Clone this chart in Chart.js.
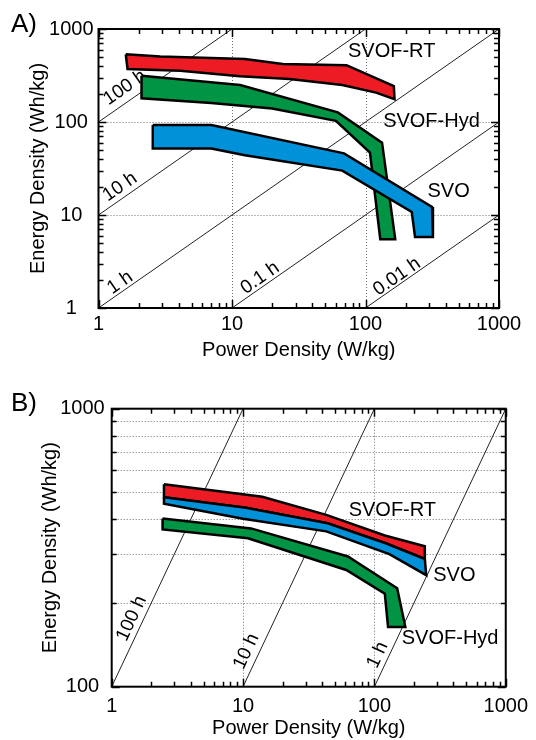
<!DOCTYPE html>
<html>
<head>
<meta charset="utf-8">
<script src="https://cdn.jsdelivr.net/npm/chart.js@4"></script>
<style>
  body { margin: 0; background: #fff; }
  canvas { position: absolute; left: 0; }
</style>
</head>
<body>
<canvas id="ragoneA" width="536" height="370" style="top:0"></canvas>
<canvas id="ragoneB" width="536" height="370" style="top:370px"></canvas>
<script>
// Band outlines, traced around each band (power W/kg, energy Wh/kg)
// Panel A
const rtPowerA   = [1.6, 2.9, 12.5, 24, 72, 163, 165, 120, 67, 27, 11.5, 4.1, 1.65];
const rtEnergyA  = [535, 505, 475, 420, 408, 243, 176, 207, 250, 290, 310, 355, 372];
const hydPowerA  = [2.1, 11.5, 62, 133, 167, 129, 108, 60, 20, 7, 2.1];
const hydEnergyA = [315, 250, 127, 60, 5.5, 5.5, 47, 103, 140, 160, 180];
const svoPowerA  = [2.55, 7, 69, 315, 320, 235, 222, 67, 12.5, 7, 2.55];
const svoEnergyA = [93, 93, 46, 12.2, 5.8, 5.8, 10.8, 30, 44, 52, 52];

// Panel B
const rtPowerB   = [2.5, 14, 43, 120, 242, 242, 122, 44, 10.5, 2.5];
const rtEnergyB  = [535, 482, 415, 350, 320, 288, 328, 387, 440, 480];
const svoPowerB  = [2.5, 10.5, 44, 122, 242, 248, 130, 43, 10, 2.5];
const svoEnergyB = [480, 440, 387, 328, 288, 252, 300, 362, 402, 455];
const hydPowerB  = [2.44, 11.5, 62.8, 149, 172, 127, 120, 61, 10.9, 2.44];
const hydEnergyB = [403, 371, 294, 226, 164, 164, 216, 263, 342, 368];

// constant discharge-time lines (hours)
const hoursA = [100, 10, 1, 0.1, 0.01];
const hoursB = [100, 10, 1];

// axis ticks
const powerDecades = [1, 10, 100, 1000];
const energyDecadesA = [1, 10, 100, 1000];
const energyDecadesB = [100, 1000];
const minorSteps = [2, 3, 4, 5, 6, 7, 8, 9];

const fontFamily = "'Liberation Sans', Arial, Helvetica, sans-serif";
const RED = '#ed1c24', GREEN = '#009444', BLUE = '#0091d8';

const minorTicks = decades => {
  const out = [];
  decades.slice(0, -1).forEach(d => minorSteps.forEach(m => out.push(d * m)));
  return out;
};

const band = (power, energy, color, order) => {
  const pts = power.map((p, i) => ({ x: p, y: energy[i] }));
  pts.push(pts[0]);
  return {
    data: pts,
    showLine: true,
    fill: 'shape',
    backgroundColor: color,
    borderColor: '#000',
    borderWidth: 2.5,
    borderJoinStyle: 'miter',
    pointRadius: 0,
    order
  };
};

// E = t * P, clipped to the axis box
const hourLine = (t, xMin, xMax, yMin, yMax) => {
  const p0 = Math.max(xMin, yMin / t);
  const p1 = Math.min(xMax, yMax / t);
  return {
    data: [{ x: p0, y: p0 * t }, { x: p1, y: p1 * t }],
    showLine: true,
    borderColor: '#222',
    borderWidth: 1,
    pointRadius: 0,
    order: 10
  };
};

const ragoneDecor = {
  id: 'ragoneDecor',
  beforeDatasetsDraw(chart, args, opts) {
    const { ctx, chartArea: area, scales: { x, y } } = chart;
    ctx.save();
    // dotted grid
    ctx.strokeStyle = '#6e6e6e';
    ctx.lineWidth = 1;
    ctx.setLineDash([1, 2]);
    ctx.beginPath();
    opts.xGrid.forEach(v => {
      const px = Math.round(x.getPixelForValue(v)) + 0.5;
      ctx.moveTo(px, area.top);
      ctx.lineTo(px, area.bottom);
    });
    opts.yGrid.forEach(v => {
      const py = Math.round(y.getPixelForValue(v)) + 0.5;
      ctx.moveTo(area.left, py);
      ctx.lineTo(area.right, py);
    });
    ctx.stroke();
    ctx.setLineDash([]);

    // hour labels, rotated along the time lines
    const yLo = y.min, yHi = y.max;
    const ang = Math.atan2(y.getPixelForValue(yHi) - y.getPixelForValue(yLo),
                           x.getPixelForValue(yHi / yLo) - x.getPixelForValue(1));
    ctx.font = `19px ${fontFamily}`;
    ctx.fillStyle = '#000';
    ctx.textAlign = 'center';
    ctx.textBaseline = 'middle';
    opts.hourLabels.forEach((t, i) => {
      ctx.save();
      ctx.translate(x.getPixelForValue(opts.hourLabelPower[i]), y.getPixelForValue(opts.hourLabelEnergy[i]));
      ctx.rotate(ang);
      ctx.fillText(`${t} h`, 0, 0);
      ctx.restore();
    });
    ctx.restore();
  },
  afterDatasetsDraw(chart, args, opts) {
    const { ctx, chartArea: area, scales: { x, y } } = chart;
    ctx.save();
    ctx.fillStyle = '#000';
    ctx.font = `20px ${fontFamily}`;
    ctx.textAlign = 'center';
    ctx.textBaseline = 'middle';
    opts.seriesLabels.forEach((s, i) => {
      ctx.fillText(s, x.getPixelForValue(opts.seriesPower[i]), y.getPixelForValue(opts.seriesEnergy[i]));
    });

    // inward ticks on all four sides
    ctx.strokeStyle = '#000';
    ctx.lineWidth = 1.5;
    ctx.beginPath();
    const tick = (v, major, horizontal) => {
      const len = major ? 8 : 5;
      if (horizontal) {
        const px = Math.round(x.getPixelForValue(v)) + 0.5;
        ctx.moveTo(px, area.bottom); ctx.lineTo(px, area.bottom - len);
        ctx.moveTo(px, area.top); ctx.lineTo(px, area.top + len);
      } else {
        const py = Math.round(y.getPixelForValue(v)) + 0.5;
        ctx.moveTo(area.left, py); ctx.lineTo(area.left + len, py);
        ctx.moveTo(area.right, py); ctx.lineTo(area.right - len, py);
      }
    };
    opts.xMajor.forEach(v => tick(v, true, true));
    minorTicks(opts.xMajor).forEach(v => tick(v, false, true));
    opts.yMajor.forEach(v => tick(v, true, false));
    minorTicks(opts.yMajor).forEach(v => tick(v, false, false));
    ctx.stroke();

    ctx.lineWidth = 2;
    ctx.strokeRect(area.left, area.top, area.right - area.left, area.bottom - area.top);

    ctx.font = `26px ${fontFamily}`;
    ctx.textAlign = 'left';
    ctx.textBaseline = 'alphabetic';
    ctx.fillText(opts.panel, 11, opts.panelBaseline);
    ctx.restore();
  }
};

function ragoneChart(id, datasets, axes, decor) {
  const tickFont = { family: fontFamily, size: 20 };
  const titleFont = { family: fontFamily, size: 20 };
  return new Chart(document.getElementById(id), {
    type: 'scatter',
    data: { datasets },
    options: {
      responsive: false,
      animation: false,
      events: [],
      layout: { padding: axes.padding },
      plugins: {
        legend: { display: false },
        tooltip: { enabled: false },
        ragoneDecor: decor
      },
      scales: {
        x: {
          type: 'logarithmic',
          min: 1,
          max: 1000,
          afterBuildTicks: s => { s.ticks = powerDecades.map(v => ({ value: v })); },
          afterFit: s => { s.height = axes.xHeight; },
          ticks: { color: '#000', font: tickFont, padding: axes.xTickPad, maxRotation: 0, autoSkip: false, callback: v => String(v) },
          grid: { display: false, drawTicks: false },
          border: { display: false },
          title: { display: true, text: 'Power Density (W/kg)', color: '#000', font: titleFont, padding: { top: 0, bottom: axes.xTitlePad } }
        },
        y: {
          type: 'logarithmic',
          min: axes.yMin,
          max: axes.yMax,
          afterBuildTicks: s => { s.ticks = axes.yDecades.map(v => ({ value: v })); },
          afterFit: s => { s.width = axes.yWidth; },
          ticks: { color: '#000', font: tickFont, padding: axes.yTickPad, crossAlign: 'center', autoSkip: false, callback: v => String(v) },
          grid: { display: false, drawTicks: false },
          border: { display: false },
          title: { display: true, text: 'Energy Density (Wh/kg)', color: '#000', font: titleFont, padding: { top: axes.yTitlePad, bottom: 0 } }
        }
      }
    },
    plugins: [ragoneDecor]
  });
}

ragoneChart('ragoneA', [
  band(rtPowerA, rtEnergyA, RED, 3),
  band(hydPowerA, hydEnergyA, GREEN, 2),
  band(svoPowerA, svoEnergyA, BLUE, 1),
  ...hoursA.map(t => hourLine(t, 1, 1000, 1, 1000))
], {
  yMin: 1, yMax: 1000, yDecades: energyDecadesA,
  padding: { left: 0, top: 29, right: 37, bottom: 0 },
  yWidth: 98.5, xHeight: 62, xTickPad: 4, yTickPad: 5, xTitlePad: 8, yTitlePad: 26
}, {
  panel: 'A)', panelBaseline: 32,
  xMajor: powerDecades, yMajor: energyDecadesA,
  xGrid: [10, 100], yGrid: [10, 100],
  hourLabels: hoursA,
  hourLabelPower: [1.58, 1.45, 1.45, 16.2, 172],
  hourLabelEnergy: [234, 20, 1.87, 2.1, 2.17],
  seriesLabels: ['SVOF-RT', 'SVOF-Hyd', 'SVO'],
  seriesPower: [157, 312, 419],
  seriesEnergy: [574, 101, 17.9]
});

ragoneChart('ragoneB', [
  band(rtPowerB, rtEnergyB, RED, 2),
  band(svoPowerB, svoEnergyB, BLUE, 1),
  band(hydPowerB, hydEnergyB, GREEN, 3),
  ...hoursB.map(t => hourLine(t, 1, 1000, 100, 1000))
], {
  yMin: 100, yMax: 1000, yDecades: energyDecadesB,
  padding: { left: 0, top: 38.7, right: 24, bottom: 0 },
  yWidth: 111.7, xHeight: 53.3, xTickPad: 8, yTickPad: 7, xTitlePad: 0, yTitlePad: 38
}, {
  panel: 'B)', panelBaseline: 41,
  xMajor: powerDecades, yMajor: energyDecadesB,
  xGrid: [10, 100], yGrid: minorTicks(energyDecadesB),
  hourLabels: hoursB,
  hourLabelPower: [1.42, 10.6, 106],
  hourLabelEnergy: [176, 134, 130],
  seriesLabels: ['SVOF-RT', 'SVO', 'SVOF-Hyd'],
  seriesPower: [137, 406, 377],
  seriesEnergy: [430, 252, 148.6]
});
</script>
</body>
</html>
